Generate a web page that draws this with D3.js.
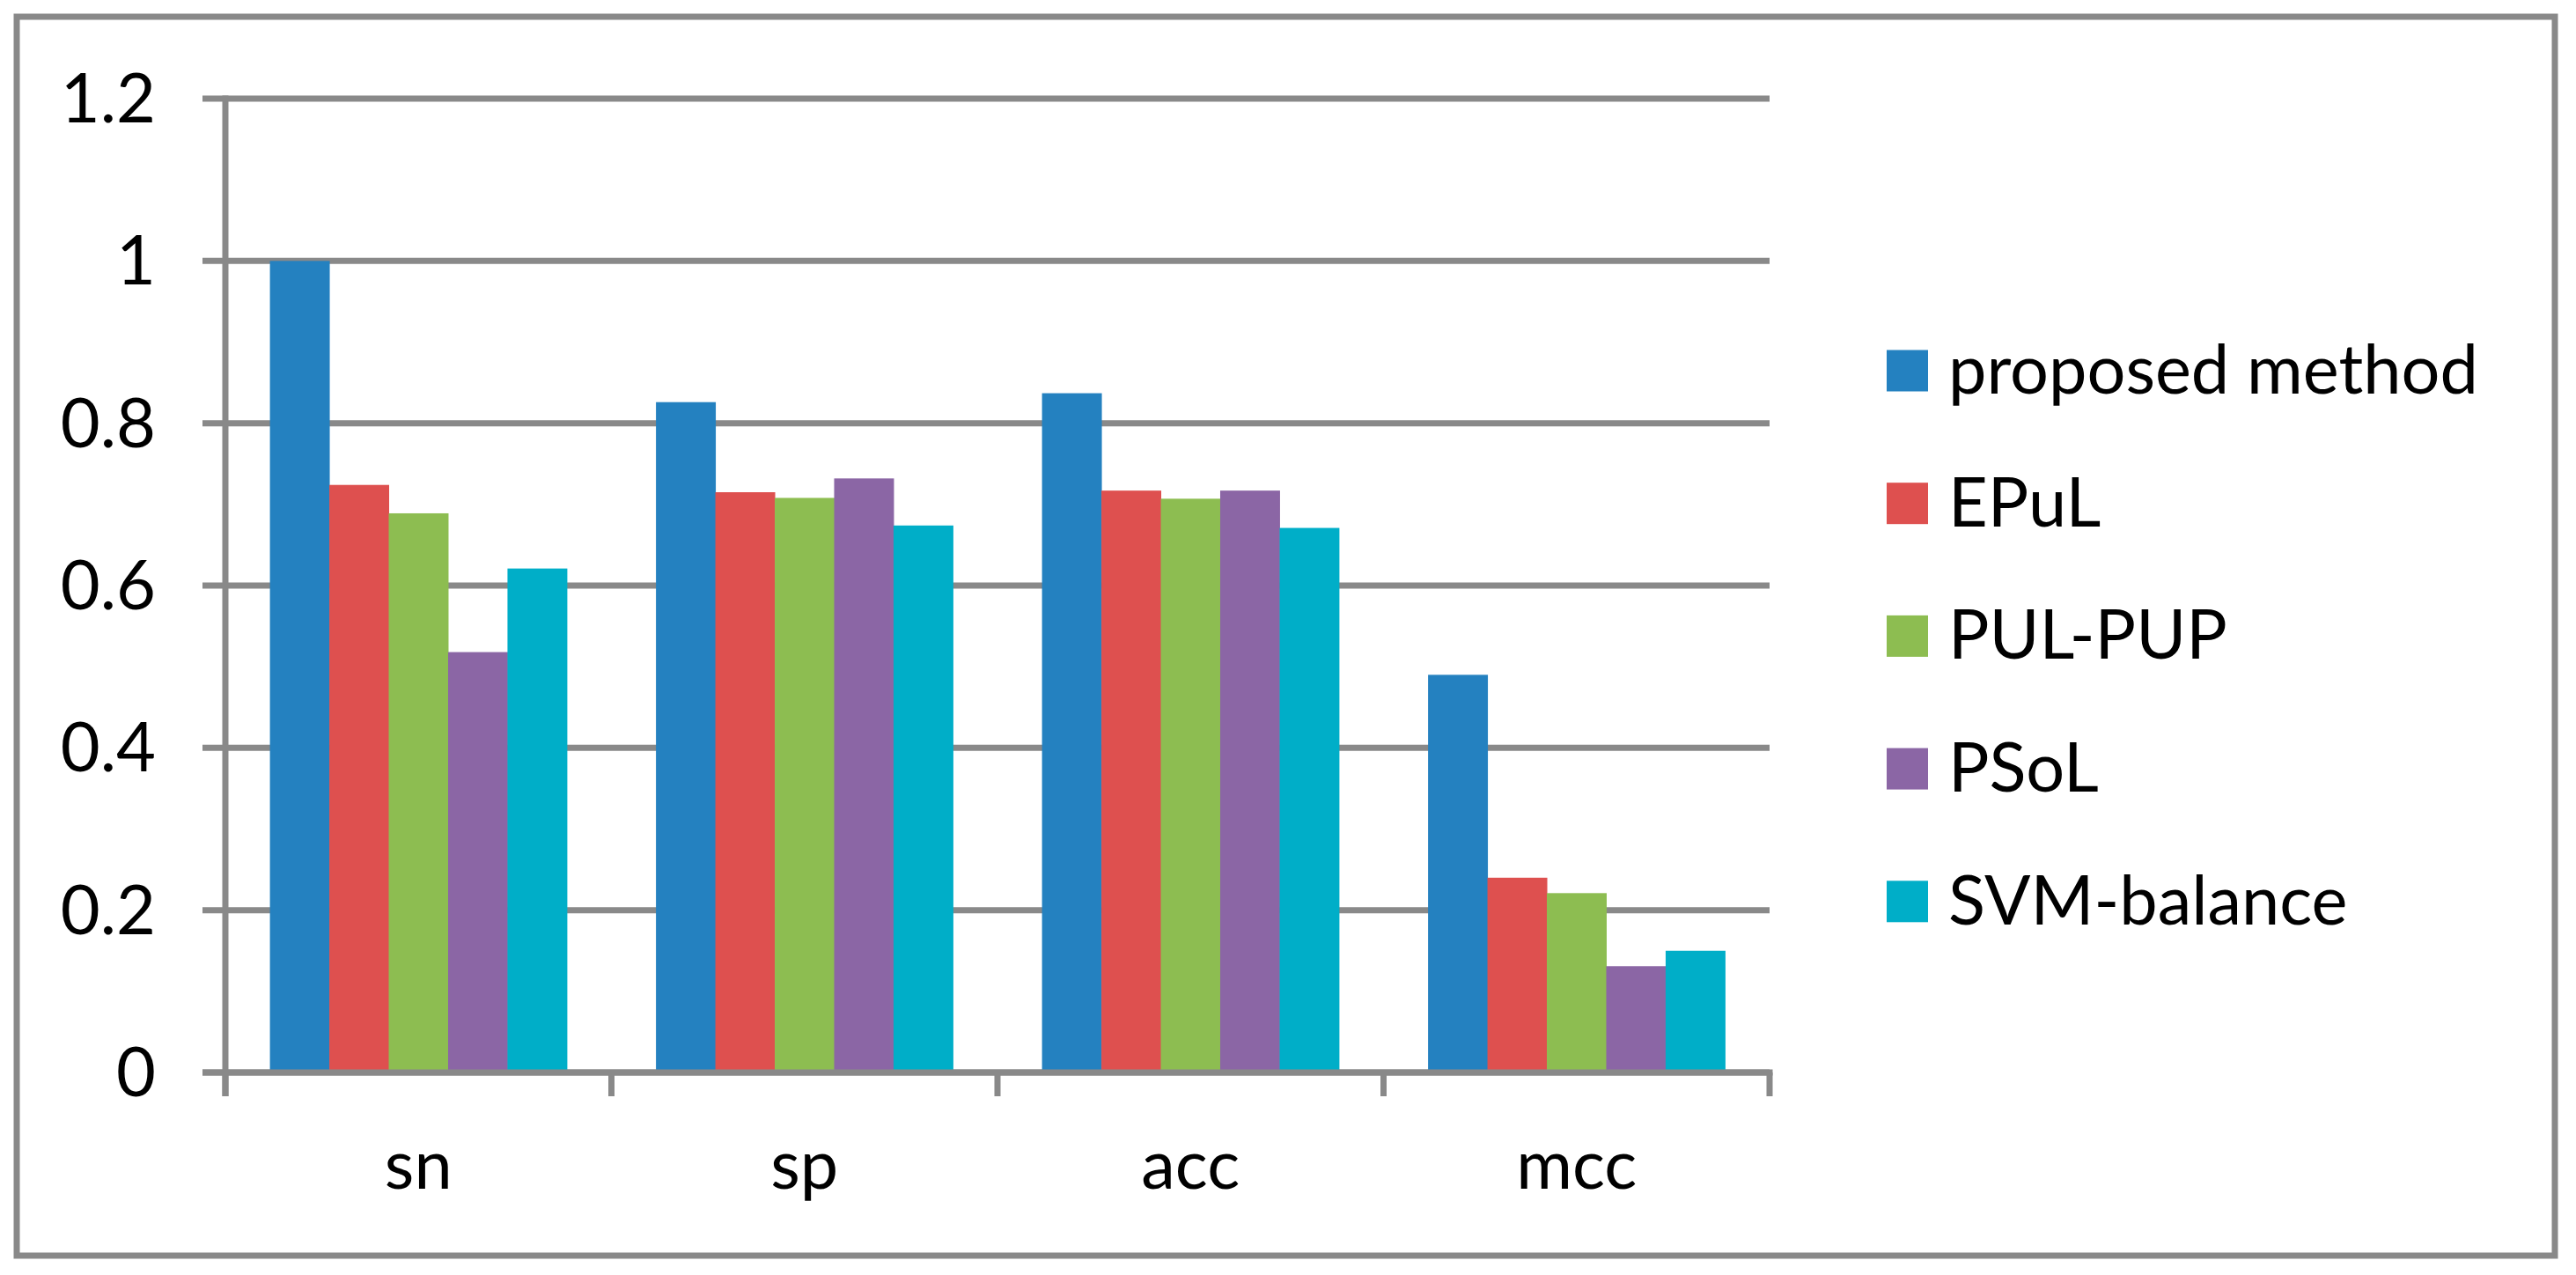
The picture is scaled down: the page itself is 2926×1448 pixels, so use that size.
<!DOCTYPE html>
<html>
<head>
<meta charset="utf-8">
<script src="https://cdn.jsdelivr.net/npm/d3@7"></script>
<style>
  html, body { margin: 0; padding: 0; background: #ffffff; }
  svg { display: block; }
  text { font-family: Lato, "Open Sans", sans-serif; fill: #000; }
</style>
</head>
<body>
<svg id="chart" width="2926" height="1448"></svg>
<script>
const categories = ["sn", "sp", "acc", "mcc"];
const seriesNames = ["proposed method", "EPuL", "PUL-PUP", "PSoL", "SVM-balance"];
const proposedMethod = [1.00, 0.826, 0.837, 0.490];
const epul = [0.724, 0.715, 0.717, 0.240];
const pulPup = [0.689, 0.708, 0.707, 0.221];
const psol = [0.518, 0.732, 0.717, 0.131];
const svmBalance = [0.621, 0.674, 0.671, 0.150];
const yTicks = [0, 0.2, 0.4, 0.6, 0.8, 1, 1.2];
const yTickLabels = ["0", "0.2", "0.4", "0.6", "0.8", "1", "1.2"];
const colors = ["#2481c0", "#de504f", "#8dbd51", "#8b66a5", "#00aec8"];

const seriesValues = [proposedMethod, epul, pulPup, psol, svmBalance];

const svg = d3.select("#chart");
const gridColor = "#898989";

const plot = { left: 256, right: 2010, top: 112, bottom: 1218 };

// Font size calibration so text matches reference width
const probe = svg.append("text").attr("font-size", 100).text("proposed method");
const w100 = probe.node().getComputedTextLength();
probe.remove();
const fs = 100 * 602 / w100;

// Outer border
svg.append("rect")
  .attr("x", 19).attr("y", 19)
  .attr("width", 2883).attr("height", 1407)
  .attr("fill", "none")
  .attr("stroke", gridColor)
  .attr("stroke-width", 7);

const x0 = d3.scaleBand().domain(categories).range([plot.left, plot.right]).padding(0);
const x1 = d3.scaleBand().domain(seriesNames).range([0, x0.bandwidth()])
  .paddingInner(0).paddingOuter(0.75);
const y = d3.scaleLinear().domain([0, 1.2]).range([plot.bottom, plot.top]);

// Gridlines (extend left as ticks)
svg.append("g").selectAll("line").data(yTicks).join("line")
  .attr("x1", plot.left - 26).attr("x2", plot.right)
  .attr("y1", d => y(d)).attr("y2", d => y(d))
  .attr("stroke", gridColor).attr("stroke-width", 7);

// Bars
const groups = svg.append("g").selectAll("g").data(categories).join("g")
  .attr("transform", d => `translate(${x0(d)},0)`);
groups.selectAll("rect")
  .data((c, ci) => seriesNames.map((s, si) => ({ s, si, v: seriesValues[si][ci] })))
  .join("rect")
  .attr("x", d => x1(d.s))
  .attr("width", x1.bandwidth() + 0.5)
  .attr("y", d => y(d.v))
  .attr("height", d => y(0) - y(d.v))
  .attr("fill", d => colors[d.si]);

// Y axis line
svg.append("line")
  .attr("x1", plot.left).attr("x2", plot.left)
  .attr("y1", plot.top - 3.5).attr("y2", plot.bottom + 27)
  .attr("stroke", gridColor).attr("stroke-width", 7);

// X axis line (over bars)
svg.append("line")
  .attr("x1", plot.left - 26).attr("x2", plot.right + 3.5)
  .attr("y1", y(0)).attr("y2", y(0))
  .attr("stroke", gridColor).attr("stroke-width", 7);

// X tick marks at category boundaries
const boundaries = categories.map(c => x0(c)).concat([plot.right]);
svg.append("g").selectAll("line").data(boundaries).join("line")
  .attr("x1", d => d).attr("x2", d => d)
  .attr("y1", y(0)).attr("y2", y(0) + 27)
  .attr("stroke", gridColor).attr("stroke-width", 7);

// Y tick labels
svg.append("g").selectAll("text").data(yTicks).join("text")
  .attr("x", 177)
  .attr("y", d => y(d))
  .attr("dy", "0.35em")
  .attr("text-anchor", "end")
  .attr("font-size", fs)
  .text((d, i) => yTickLabels[i]);

// Category labels
svg.append("g").selectAll("text").data(categories).join("text")
  .attr("x", d => x0(d) + x0.bandwidth() / 2)
  .attr("y", 1350)
  .attr("text-anchor", "middle")
  .attr("font-size", fs)
  .text(d => d);

// Legend
const legend = svg.append("g").selectAll("g").data(seriesNames).join("g")
  .attr("transform", (d, i) => `translate(0,${421 + i * 150.7})`);
legend.append("rect")
  .attr("x", 2143).attr("y", -23.5)
  .attr("width", 47).attr("height", 47)
  .attr("fill", (d, i) => colors[i]);
legend.append("text")
  .attr("x", 2213).attr("y", 26)
  .attr("font-size", fs)
  .text(d => d);
</script>
</body>
</html>
